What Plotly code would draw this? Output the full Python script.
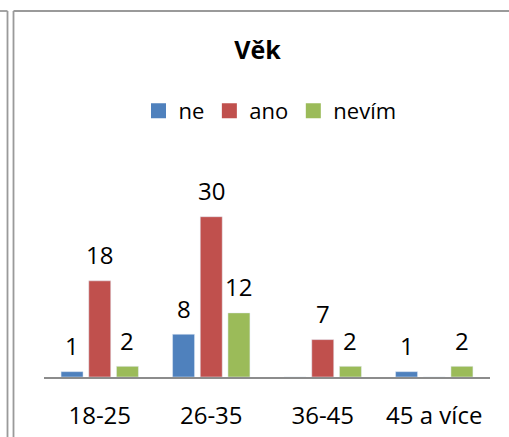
import plotly.graph_objects as go

categories = ["18-25", "26-35", "36-45", "45 a více"]
ne = [1, 8, 0, 1]
ano = [18, 30, 7, 0]
nevim = [2, 12, 2, 2]
series_names = ["ne", "ano", "nevím"]
series_colors = ["#4F81BD", "#C0504D", "#9BBB59"]

W, H = 509, 437
L, R, T, B = 44, 19, 190, 60
BARGAP = 0.255
BARGROUPGAP = 0.206
FONT = "Open Sans"

fig = go.Figure()
all_series = [ne, ano, nevim]
for name, vals, col in zip(series_names, all_series, series_colors):
    fig.add_trace(go.Bar(x=categories, y=vals, name=name, marker=dict(color=col),
                         legendgroup=name, showlegend=False))
    # legend entry with a larger square swatch
    fig.add_trace(go.Scatter(x=[None], y=[None], mode="markers", name=name, legendgroup=name,
                             marker=dict(symbol="square", size=15, color=col), showlegend=True))

# data labels
slot = (1 - BARGAP) / len(all_series)
for k, vals in enumerate(all_series):
    for i, v in enumerate(vals):
        if v == 0:
            continue
        fig.add_annotation(x=i + (k - 1) * slot, y=v, text=str(v), showarrow=False,
                           xref="x", yref="y", yanchor="middle", yshift=26,
                           font=dict(family=FONT, size=24, color="black"))

pw = W - L - R
ph = H - T - B
def px(xp):
    return (xp - L) / pw
def py(yp):
    return (H - B - yp) / ph

line = dict(color="#9a9a9a", width=1.8)
shapes = [
    dict(type="line", xref="paper", yref="paper", x0=px(7.5), x1=px(7.5), y0=py(11), y1=py(437), line=line),
    dict(type="line", xref="paper", yref="paper", x0=px(0), x1=px(7.5), y0=py(11), y1=py(11), line=line),
    dict(type="line", xref="paper", yref="paper", x0=px(13.5), x1=px(13.5), y0=py(11), y1=py(437), line=line),
    dict(type="line", xref="paper", yref="paper", x0=px(13.5), x1=px(509), y0=py(11), y1=py(11), line=line),
]

fig.update_layout(
    width=W, height=H,
    margin=dict(l=L, r=R, t=T, b=B, pad=0, autoexpand=False),
    paper_bgcolor="white", plot_bgcolor="white",
    barmode="group", bargap=BARGAP, bargroupgap=BARGROUPGAP,
    font=dict(family=FONT, size=24, color="black"),
    title=dict(text="<b>Věk</b>", x=257.5 / W, xanchor="center", xref="container",
               y=1 - 50 / H, yanchor="middle", yref="container",
               font=dict(family=FONT, size=25, color="black")),
    showlegend=True,
    legend=dict(orientation="h", x=px(270), xanchor="center", y=py(111), yanchor="middle",
                font=dict(family=FONT, size=22, color="black"), bgcolor="rgba(0,0,0,0)",
                traceorder="normal", itemwidth=30, itemsizing="trace"),
    xaxis=dict(showline=True, linecolor="#8c8c8c", linewidth=1.6, showgrid=False,
               ticks="outside", ticklen=16, tickcolor="rgba(0,0,0,0)", automargin=False,
               tickfont=dict(family=FONT, size=24, color="black"), fixedrange=True),
    yaxis=dict(range=[0, 35], visible=False, showgrid=False, zeroline=False,
               automargin=False, fixedrange=True),
    shapes=shapes,
)

fig.write_html("out.html", config={"displayModeBar": False},
               post_script="document.body.style.margin='0';document.body.style.overflow='hidden';")
